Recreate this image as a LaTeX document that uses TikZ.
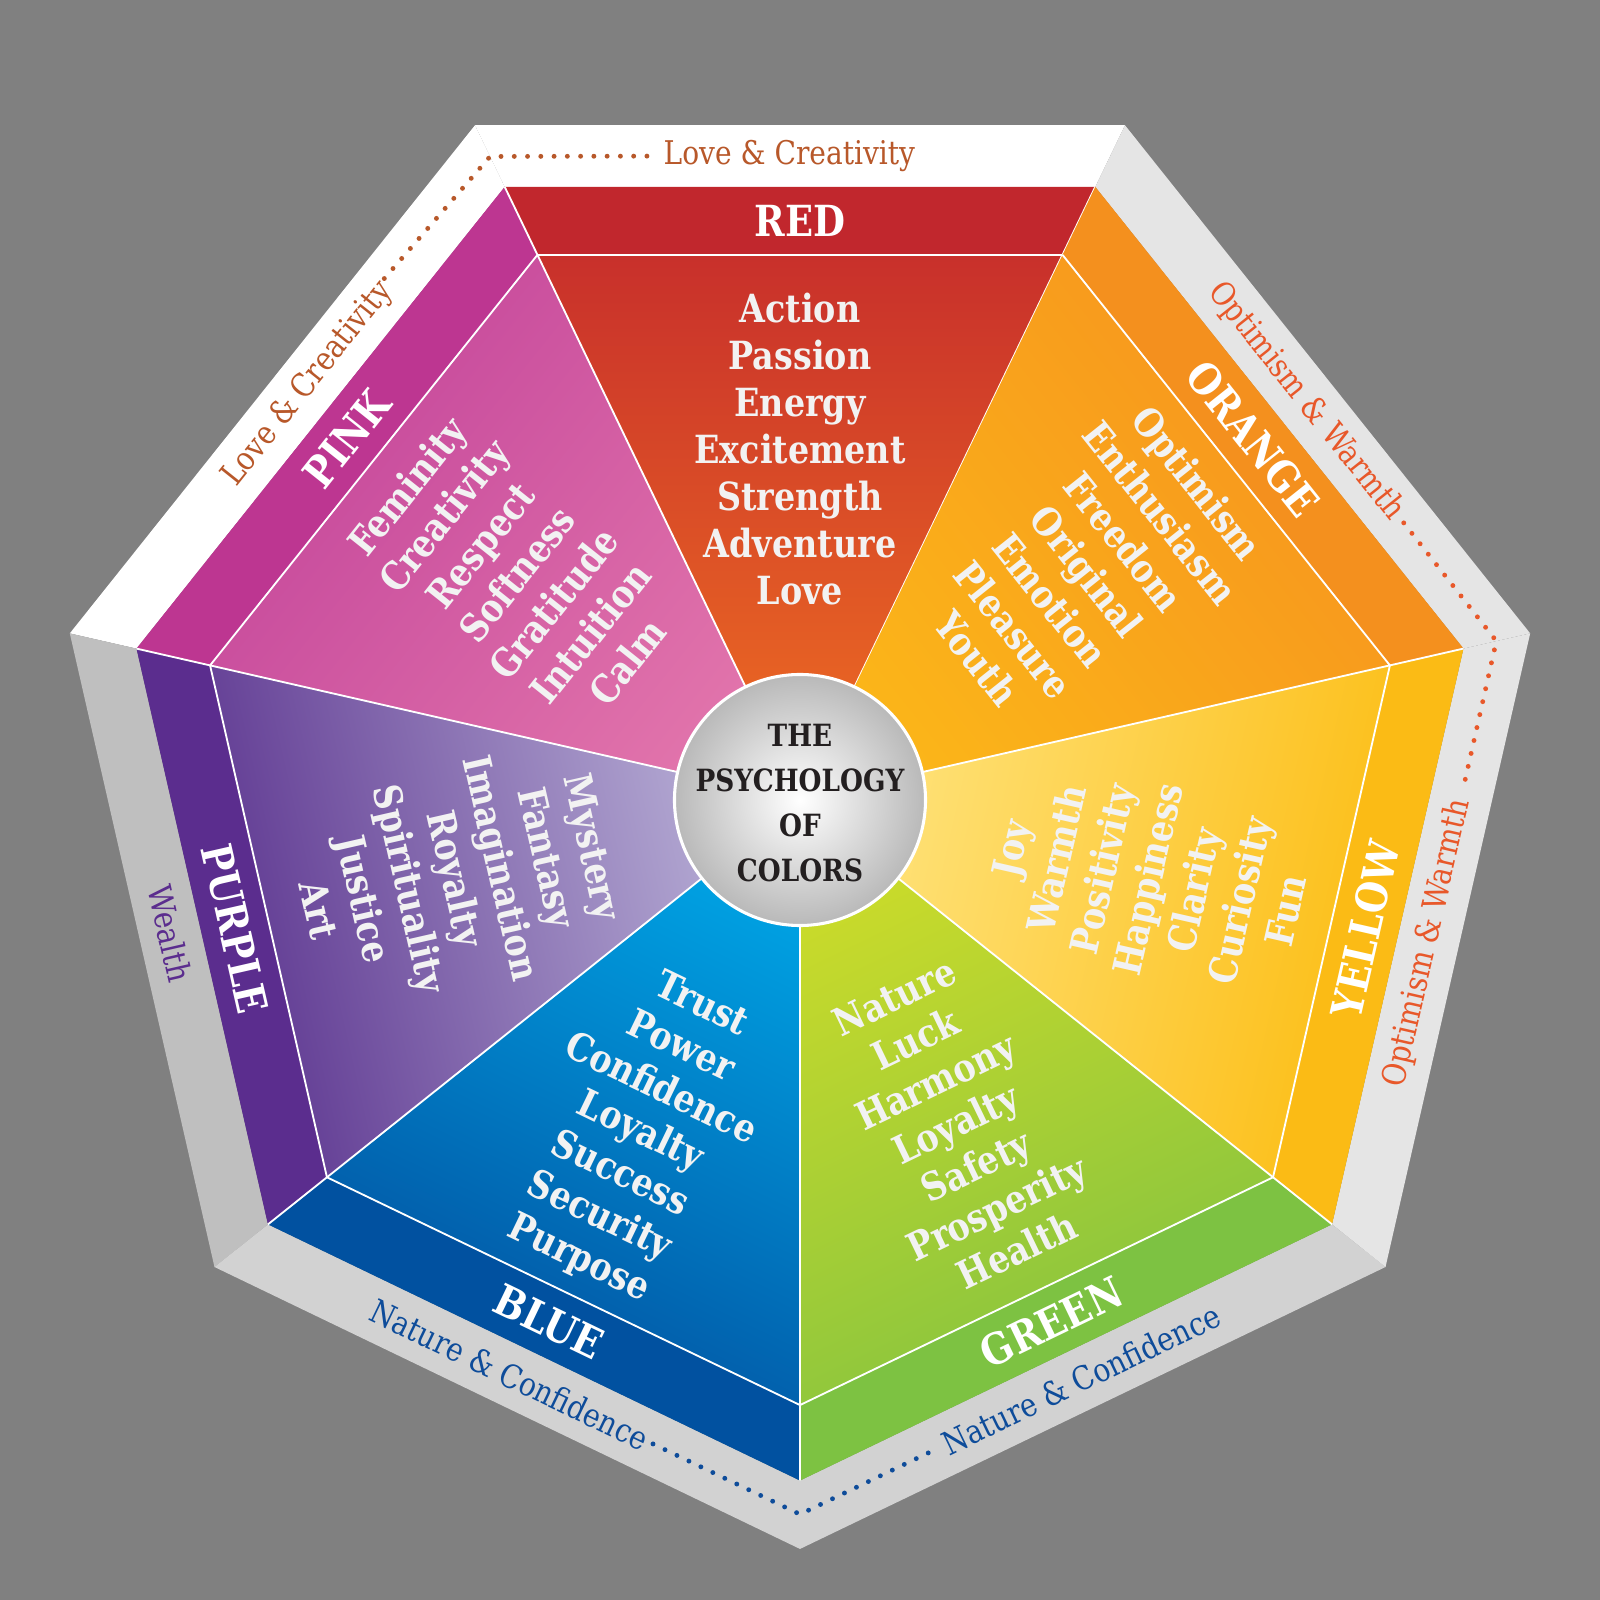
\documentclass[tikz,border=0pt]{standalone}
\usepackage{fontspec}
\setmainfont{DejaVu Serif}[FakeStretch=0.86]
\definecolor{bggray}{HTML}{808080}
\definecolor{redband}{HTML}{C1272D}\definecolor{redout}{HTML}{C8302B}\definecolor{redin}{HTML}{EF6F22}
\definecolor{pinkband}{HTML}{BD3691}\definecolor{pinkout}{HTML}{C3449A}\definecolor{pinkin}{HTML}{E173AB}
\definecolor{purpband}{HTML}{5B2D8E}\definecolor{purpout}{HTML}{5E3791}\definecolor{purpin}{HTML}{BDB6DA}
\definecolor{blueband}{HTML}{0151A0}\definecolor{blueout}{HTML}{0251A0}\definecolor{bluein}{HTML}{00A3E4}
\definecolor{greenband}{HTML}{7DC242}\definecolor{greenout}{HTML}{84C340}\definecolor{greenin}{HTML}{CBDB2A}
\definecolor{yellband}{HTML}{FBBB15}\definecolor{yellout}{HTML}{FCBE16}\definecolor{yellin}{HTML}{FFE582}
\definecolor{orangeband}{HTML}{F4901E}\definecolor{orangeout}{HTML}{F7931E}\definecolor{orangein}{HTML}{FBB519}
\definecolor{lovetext}{HTML}{B8582A}\definecolor{opttext}{HTML}{E8582A}
\definecolor{wealthtext}{HTML}{5B2D8E}\definecolor{naturetext}{HTML}{0E4C9A}
\definecolor{wordtext}{HTML}{F2F2F2}\definecolor{centertext}{HTML}{231F20}
\tikzset{
  words/.style={text=wordtext, align=center, font=\bfseries\fontsize{19}{23}\selectfont, inner sep=0pt},
  bandlabel/.style={text=white, font=\bfseries\fontsize{21}{24}\selectfont, inner sep=0pt},
  framelabel/.style={font=\fontsize{16}{18}\selectfont, inner sep=0pt, transform shape},
  dotline/.style={line width=2.4pt, line cap=round, dash pattern=on 0pt off 6.5pt}
}
\begin{document}
\begin{tikzpicture}[x=0.5pt,y=0.5pt]
% background
\fill[bggray] (-784,-816) rectangle (816,784);

% frame, bands and triangles
\foreach \th/\fc/\bc/\oc/\ic in {90/white/redband/redout/redin,
  141.43/white/pinkband/pinkout/pinkin,
  192.86/gray!50/purpband/purpout/purpin,
  244.29/gray!35/blueband/blueout/bluein,
  295.71/gray!35/greenband/greenout/greenin,
  347.14/gray!20/yellband/yellout/yellin,
  38.57/gray!20/orangeband/orangeout/orangein}{
  \pgfmathsetmacro\s{\th-25.714}
  \pgfmathsetmacro\e{\th+25.714}
  \pgfmathsetmacro\sa{\th-90}
  \fill[\fc] (\s:734) -- (\e:734) -- (\e:667) -- (\s:667) -- cycle;
  \fill[\bc] (\s:667) -- (\e:667) -- (\e:593) -- (\s:593) -- cycle;
  \shade[top color=\oc, bottom color=\ic, shading angle=\sa] (0,0) -- (\s:593) -- (\e:593) -- cycle;
  \draw[white, line width=0.9pt] (\s:667) -- (\s:593) -- (0,0);
  \draw[white, line width=0.9pt] (\s:593) -- (\e:593);
}

% center circle
\shade[inner color=white, outer color=gray!55, draw=white, line width=1.5pt] (0,0) circle (123);
\node[text=centertext, align=center, font=\bfseries\fontsize{15}{22}\selectfont] (title) at (0,-3) {THE\\PSYCHOLOGY\\OF\\COLORS};

% band labels
\node[bandlabel] (redlbl) at (90:568) {RED};
\node[bandlabel, rotate=51.43] (pinklbl) at (141.43:568) {PINK};
\node[bandlabel, rotate=-77.14] (purplbl) at (192.86:568) {PURPLE};
\node[bandlabel, rotate=-25.71] (bluelbl) at (244.29:568) {BLUE};
\node[bandlabel, rotate=25.71] (greenlbl) at (295.71:568) {GREEN};
\node[bandlabel, rotate=77.14] (yelllbl) at (347.14:568) {YELLOW};
\node[bandlabel, rotate=-51.43] (orangelbl) at (38.57:568) {ORANGE};

% word lists
\node[words] (redwords) at (90:344) {Action\\Passion\\Energy\\Excitement\\Strength\\Adventure\\Love};
\node[words, rotate=51.43] (pinkwords) at (141.43:355) {Feminity\\Creativity\\Respect\\Softness\\Gratitude\\Intuition\\Calm};
\node[words, rotate=-77.14] (purpwords) at (192.86:346) {Mystery\\Fantasy\\Imagination\\Royalty\\Spirituality\\Justice\\Art};
\node[words, rotate=-25.71] (bluewords) at (244.29:362) {Trust\\Power\\Confidence\\Loyalty\\Success\\Security\\Purpose};
\node[words, rotate=25.71] (greenwords) at (295.71:352) {Nature\\Luck\\Harmony\\Loyalty\\Safety\\Prosperity\\Health};
\node[words, rotate=77.14] (yellwords) at (347.14:350) {Joy\\Warmth\\Positivity\\Happiness\\Clarity\\Curiosity\\Fun};
\node[words, rotate=-51.43] (orangewords) at (38.57:360) {Optimism\\Enthusiasm\\Freedom\\Original\\Emotion\\Pleasure\\Youth};

% frame labels
\node[framelabel, text=lovetext, anchor=west] (lovetop) at (-134,631) {Love \& Creativity};
\begin{scope}[rotate=51.43]
  \node[framelabel, text=lovetext] (loveside) at (18,631) {Love \& Creativity};
\end{scope}
\begin{scope}[rotate=-51.43]
  \node[framelabel, text=opttext] (optside) at (4,631) {Optimism \& Warmth};
\end{scope}
\begin{scope}[rotate=77.14]
  \node[framelabel, text=opttext] (optlow) at (0,-631) {Optimism \& Warmth};
\end{scope}
\begin{scope}[rotate=-77.14]
  \node[framelabel, text=wealthtext] (wealth) at (-10,-631) {Wealth};
\end{scope}
\begin{scope}[rotate=-25.71]
  \node[framelabel, text=naturetext] (natleft) at (-12,-631) {Nature \& Confidence};
\end{scope}
\begin{scope}[rotate=25.71]
  \node[framelabel, text=naturetext] (natright) at (2,-631) {Nature \& Confidence};
\end{scope}

% dotted connectors
\coordinate (lovecorner) at (115.71:700);
\coordinate (optcorner) at (12.86:700);
\coordinate (natcorner) at (270:700);
\draw[dotline, lovetext] ([xshift=-8]lovetop.west) -- (lovecorner) -- ([shift={(-4,5)}]loveside.east);
\draw[dotline, opttext] ([shift={(6,-6)}]optside.east) -- (optcorner) -- ([shift={(2,8)}]optlow.east);
\draw[dotline, naturetext] ([shift={(6,-3)}]natleft.east) -- (natcorner) -- ([shift={(-6,-3)}]natright.west);

\pgfresetboundingbox
\path[use as bounding box] (-784,-784) rectangle (784,784);
\end{tikzpicture}
\end{document}
